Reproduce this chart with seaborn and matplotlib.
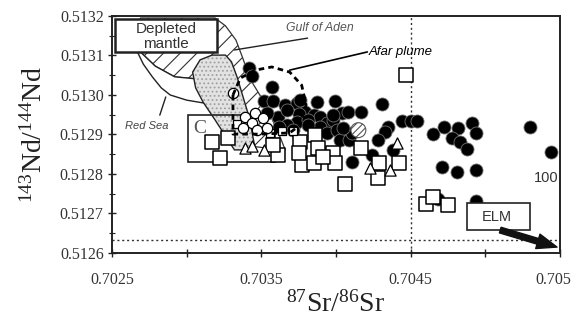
import matplotlib
matplotlib.use("Agg")
import matplotlib.pyplot as plt
import matplotlib.transforms as mtransforms
import seaborn as sns
import numpy as np
import pandas as pd
from matplotlib.patches import Polygon, Rectangle

# ---------------- data ----------------
circ_x = [0.70342, 0.70344, 0.70357, 0.70352, 0.70358, 0.70366, 0.70374, 0.70376, 0.70387, 0.70399,
          0.70431, 0.70379, 0.70375, 0.70385, 0.70389, 0.70361, 0.70354, 0.70367, 0.70374, 0.70367,
          0.70381, 0.70394, 0.70389, 0.70371, 0.70404, 0.70408, 0.70417, 0.70398, 0.70381, 0.70394,
          0.70401, 0.70407, 0.70403, 0.70409, 0.70411, 0.70444, 0.70450, 0.70454, 0.70435, 0.70433,
          0.70428, 0.70424, 0.70438, 0.70411, 0.70465, 0.70472, 0.70482, 0.70491, 0.70494, 0.70478,
          0.70483, 0.70488, 0.70471, 0.70481, 0.70494, 0.70468, 0.70494, 0.70530, 0.70544, 0.70362,
          0.70398, 0.70405]
circ_y = [0.513068, 0.513048, 0.513020, 0.512985, 0.512985, 0.512975, 0.512980, 0.512987, 0.512982, 0.512985,
          0.512977, 0.512957, 0.512952, 0.512949, 0.512944, 0.512944, 0.512954, 0.512962, 0.512932, 0.512924,
          0.512937, 0.512929, 0.512919, 0.512911, 0.512954, 0.512957, 0.512957, 0.512937, 0.512924, 0.512904,
          0.512911, 0.512906, 0.512886, 0.512886, 0.512904, 0.512934, 0.512934, 0.512934, 0.512919, 0.512906,
          0.512886, 0.512848, 0.512861, 0.512830, 0.512901, 0.512919, 0.512916, 0.512929, 0.512904, 0.512891,
          0.512881, 0.512863, 0.512818, 0.512805, 0.512810, 0.512737, 0.512732, 0.512919, 0.512856, 0.512919,
          0.512949, 0.512916]

sq_x = [0.70317, 0.70328, 0.70322, 0.70361, 0.70376, 0.70386, 0.70377, 0.70385, 0.70375, 0.70398,
        0.70399, 0.70417, 0.70429, 0.70428, 0.70442, 0.70406, 0.70447, 0.70460, 0.70465, 0.70475,
        0.70358, 0.70388, 0.70391]
sq_y = [0.512881, 0.512891, 0.512841, 0.512848, 0.512881, 0.512899, 0.512823, 0.512828, 0.512853, 0.512853,
        0.512828, 0.512866, 0.512828, 0.512790, 0.512828, 0.512775, 0.513051, 0.512724, 0.512742, 0.512722,
        0.512873, 0.512866, 0.512843]

smallsq_x = [0.70334, 0.70356, 0.70364, 0.70371]
smallsq_y = [0.512927, 0.512904, 0.512909, 0.512909]

ocirc_x = [0.70331, 0.70339, 0.70344, 0.70346, 0.70351, 0.70347, 0.70354, 0.70338]
ocirc_y = [0.513005, 0.512944, 0.512929, 0.512954, 0.512942, 0.512911, 0.512916, 0.512916]

tri_x = [0.70339, 0.70344, 0.70352, 0.70441, 0.70436, 0.70423]
tri_y = [0.512866, 0.512871, 0.512861, 0.512879, 0.512810, 0.512815]

hcirc_x = [0.70415]
hcirc_y = [0.512911]

# fields (outlines in data units)
hatch_field_x = [0.70269, 0.70279, 0.70292, 0.70306, 0.70319, 0.70336, 0.70366, 0.70362, 0.70356,
                 0.70349, 0.70342, 0.70338, 0.70333, 0.70326, 0.70319, 0.70269]
hatch_field_y = [0.513109, 0.513073, 0.513046, 0.513041, 0.512962, 0.512873, 0.512861, 0.512899, 0.512949,
                 0.513000, 0.513043, 0.513089, 0.513139, 0.513175, 0.513195, 0.513195]
redsea_x = [0.70267, 0.70271, 0.70277, 0.70283, 0.70289, 0.70300, 0.70311, 0.70319, 0.70312, 0.70306,
            0.70292, 0.70279, 0.70269]
redsea_y = [0.513109, 0.513078, 0.513046, 0.513018, 0.513000, 0.512987, 0.512980, 0.512972, 0.513008,
            0.513041, 0.513046, 0.513073, 0.513109]
stipple_x = [0.70304, 0.70309, 0.70317, 0.70326, 0.70330, 0.70334, 0.70338, 0.70342, 0.70346, 0.70332,
             0.70319, 0.70311, 0.70306]
stipple_y = [0.513058, 0.513089, 0.513101, 0.513101, 0.513084, 0.513043, 0.512992, 0.512942, 0.512861,
             0.512861, 0.512937, 0.512982, 0.513018]
afar_x = [0.70331, 0.70336, 0.70346, 0.70357, 0.70369, 0.70377, 0.70380, 0.70376, 0.70369, 0.70349,
          0.70331, 0.70331]
afar_y = [0.513000, 0.513043, 0.513063, 0.513071, 0.513058, 0.513025, 0.512975, 0.512924, 0.512904,
          0.512901, 0.512901, 0.513000]

xtick_vals = [0.7025, 0.7030, 0.7035, 0.7040, 0.7045, 0.7050, 0.7055]
xtick_labels = ["0.7025", "", "0.7035", "", "0.7045", "", "0.705"]
ytick_vals = [0.5126, 0.5127, 0.5128, 0.5129, 0.5130, 0.5131, 0.5132]
ytick_labels = ["0.5126", "0.5127", "0.5128", "0.5129", "0.5130", "0.5131", "0.5132"]
sr_ref = 0.7045
nd_ref = 0.512633

# ---------------- style ----------------
sns.set_theme(style="ticks")
plt.rcParams["font.family"] = ["Liberation Serif", "DejaVu Serif"]
plt.rcParams["mathtext.fontset"] = "custom"
plt.rcParams["mathtext.rm"] = "Liberation Serif"
plt.rcParams["mathtext.it"] = "Liberation Serif:italic"
plt.rcParams["hatch.linewidth"] = 0.8

fig = plt.figure(figsize=(5.72, 3.21), dpi=100)
ax = fig.add_axes([112 / 572, 1 - 253 / 321, 448 / 572, 237 / 321])
ax.set_xlim(0.7025, 0.7055)
ax.set_ylim(0.5126, 0.5132)

# fields
ax.add_patch(Polygon(np.column_stack([hatch_field_x, hatch_field_y]), closed=True,
                     facecolor="white", edgecolor="#333333", hatch="//", lw=0.9, zorder=1))
ax.add_patch(Polygon(np.column_stack([redsea_x, redsea_y]), closed=True,
                     facecolor="white", edgecolor="#222222", lw=1.0, zorder=1.1))
ax.add_patch(Polygon(np.column_stack([stipple_x, stipple_y]), closed=True,
                     facecolor="#e2e2e2", edgecolor="#a0a0a0", hatch="....", lw=0, zorder=1.2))
ax.add_patch(Polygon(np.column_stack([stipple_x, stipple_y]), closed=True,
                     facecolor="none", edgecolor="#222222", lw=1.0, zorder=1.3))

# C box
ax.add_patch(Rectangle((0.70301, 0.512830), 0.00058, 0.000119, facecolor="none",
                       edgecolor="#222222", lw=1.2, zorder=1.4))
ax.text(0.70309, 0.512916, "C", fontsize=14, color="#555555", ha="center", va="center", zorder=1.5)

# reference lines
ax.axvline(sr_ref, color="#333333", lw=1.0, ls=(0, (1.5, 2)), zorder=1.5)
ax.axhline(nd_ref, color="#333333", lw=1.0, ls=(0, (1.5, 2)), zorder=1.5)

# data points
df_c = pd.DataFrame({"sr": circ_x, "nd": circ_y})
sns.scatterplot(data=df_c, x="sr", y="nd", ax=ax, marker="o", s=88, color="black",
                edgecolor="#707070", linewidth=0.6, zorder=3, legend=False)
sns.scatterplot(x=hcirc_x, y=hcirc_y, ax=ax, marker="o", s=115, facecolor="white",
                edgecolor="#555555", hatch="/////", linewidth=0.8, zorder=3.5, legend=False)
df_s = pd.DataFrame({"sr": sq_x, "nd": sq_y})
sns.scatterplot(data=df_s, x="sr", y="nd", ax=ax, marker="s", s=105, facecolor="white",
                edgecolor="black", linewidth=1.1, zorder=4, legend=False)
sns.scatterplot(x=smallsq_x, y=smallsq_y, ax=ax, marker="s", s=38, facecolor="white",
                edgecolor="black", linewidth=0.9, zorder=4, legend=False)
sns.scatterplot(x=tri_x, y=tri_y, ax=ax, marker="^", s=65, facecolor="white",
                edgecolor="black", linewidth=0.9, zorder=4, legend=False)
sns.scatterplot(x=ocirc_x, y=ocirc_y, ax=ax, marker="o", s=55, facecolor="white",
                edgecolor="black", linewidth=0.9, zorder=4.2, legend=False)

# Afar plume outline
ax.plot(afar_x, afar_y, color="black", lw=2.0, ls=(0, (2, 1.5)), zorder=4.5)

# annotations
sans = ["Liberation Sans", "DejaVu Sans"]
ax.add_patch(Rectangle((0.70252, 0.513109), 0.00068, 0.000083, facecolor="white",
                       edgecolor="#222222", lw=1.8, zorder=6, clip_on=False))
ax.text(0.70286, 0.513167, "Depleted", family=sans, fontsize=11, color="#333333",
        ha="center", va="center", zorder=7)
ax.text(0.70286, 0.513129, "mantle", family=sans, fontsize=11, color="#333333",
        ha="center", va="center", zorder=7)

ax.plot([0.70381, 0.70332], [0.513144, 0.513114], color="#222222", lw=1.0, zorder=5)
ax.text(0.70389, 0.513170, "Gulf of Aden", family=sans, style="italic", fontsize=8.8,
        color="#555555", ha="center", va="center", zorder=7)

ax.plot([0.70421, 0.70369], [0.513109, 0.513063], color="black", lw=1.2, zorder=5)
ax.text(0.70422, 0.513109, "Afar plume", family=sans, style="italic", fontsize=9.5,
        color="black", ha="left", va="center", zorder=7)

ax.plot([0.70282, 0.70286], [0.512949, 0.512995], color="#222222", lw=1.0, zorder=5)
ax.text(0.70273, 0.512922, "Red Sea", family=sans, style="italic", fontsize=8,
        color="#444444", ha="center", va="center", zorder=7)

ax.add_patch(Rectangle((0.70488, 0.512658), 0.00042, 0.000069, facecolor="white",
                       edgecolor="#222222", lw=1.2, zorder=6))
ax.text(0.70508, 0.512691, "ELM", family=sans, fontsize=10.5, color="#333333",
        ha="center", va="center", zorder=7)
ax.annotate("", xy=(0.70548, 0.512615), xytext=(0.70510, 0.512658),
            arrowprops=dict(arrowstyle="simple,head_width=0.9,head_length=1.2,tail_width=0.35",
                            color="#111111", shrinkA=0, shrinkB=0), zorder=6)
ax.text(0.70541, 0.512790, "100", family=sans, fontsize=10.5, color="#333333",
        ha="center", va="center", zorder=7)

# axes cosmetics
ax.set_xticks(xtick_vals)
ax.set_xticklabels(xtick_labels)
ax.set_yticks(ytick_vals)
ax.set_yticklabels(ytick_labels)
ax.set_yticks(np.arange(0.51265, 0.5132, 0.0001), minor=True)
ax.tick_params(axis="both", which="major", direction="inout", length=6, width=1.0,
               labelsize=11.5, labelcolor="#333333", color="#222222", pad=3)
ax.tick_params(axis="x", which="major", pad=11)
ax.tick_params(axis="y", which="minor", direction="inout", length=4, width=0.8, color="#222222")
for sp in ax.spines.values():
    sp.set_linewidth(1.4)
    sp.set_color("#222222")
    sp.set_visible(True)

# shift last x label so it ends at the figure edge
last = ax.get_xticklabels()[-1]
last.set_transform(last.get_transform() +
                   mtransforms.ScaledTranslation(-0.07, 0, fig.dpi_scale_trans))

ax.set_xlabel(r"$^{87}$Sr/$^{86}$Sr", fontsize=20, color="#222222", labelpad=2)
ax.set_ylabel(r"$^{143}$Nd/$^{144}$Nd", fontsize=20, color="#222222", labelpad=9)

fig.savefig("out.png", dpi=100)
